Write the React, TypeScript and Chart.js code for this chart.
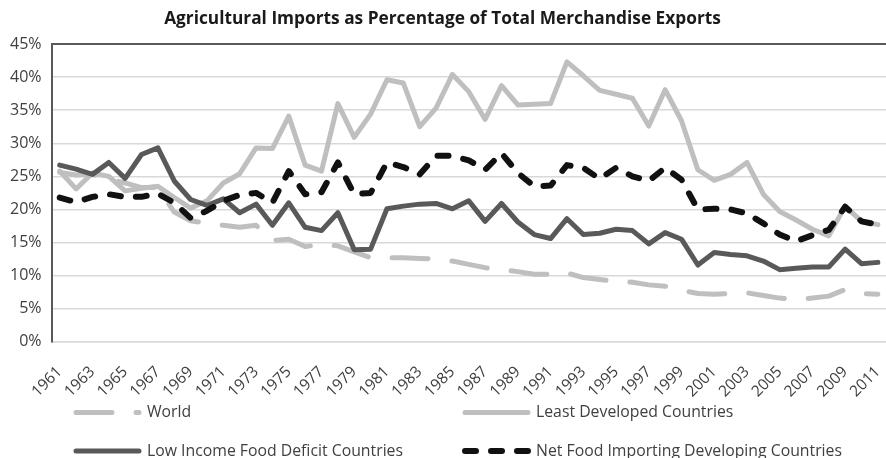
import React, { useEffect, useRef } from "react";
import { Chart, registerables } from "chart.js";

Chart.register(...registerables);

const TITLE = "Agricultural Imports as Percentage of Total Merchandise Exports";

const years = [
  "1961", "1962", "1963", "1964", "1965", "1966", "1967", "1968", "1969", "1970",
  "1971", "1972", "1973", "1974", "1975", "1976", "1977", "1978", "1979", "1980",
  "1981", "1982", "1983", "1984", "1985", "1986", "1987", "1988", "1989", "1990",
  "1991", "1992", "1993", "1994", "1995", "1996", "1997", "1998", "1999", "2000",
  "2001", "2002", "2003", "2004", "2005", "2006", "2007", "2008", "2009", "2010",
  "2011",
];

const world = [
  25.6, 25.2, 25.3, 24.6, 24.0, 23.3, 23.3, 19.6, 18.3, 17.9,
  17.6, 17.3, 17.6, 15.3, 15.5, 14.4, 14.7, 14.5, 13.6, 12.7,
  12.7, 12.7, 12.6, 12.5, 12.2, 11.7, 11.2, 10.9, 10.6, 10.2,
  10.2, 10.4, 9.7, 9.4, 9.1, 9.0, 8.6, 8.4, 7.8, 7.3,
  7.2, 7.3, 7.4, 7.0, 6.6, 6.4, 6.6, 6.9, 7.9, 7.3,
  7.2,
];

const leastDeveloped = [
  25.8, 23.1, 25.5, 25.0, 22.8, 23.2, 23.5, 21.8, 20.2, 21.3,
  24.0, 25.4, 29.3, 29.2, 34.1, 26.7, 25.8, 36.0, 30.9, 34.4,
  39.6, 39.1, 32.5, 35.3, 40.4, 37.8, 33.6, 38.7, 35.8, 35.9,
  36.0, 42.3, 40.2, 38.0, 37.4, 36.8, 32.6, 38.1, 33.4, 26.0,
  24.4, 25.3, 27.1, 22.3, 19.7, 18.4, 17.0, 16.0, 20.5, 18.2,
  17.7,
];

const lowIncomeFoodDeficit = [
  26.7, 26.1, 25.3, 27.1, 24.7, 28.3, 29.3, 24.3, 21.5, 20.6,
  21.6, 19.5, 20.8, 17.6, 21.0, 17.3, 16.8, 19.5, 13.9, 14.0,
  20.1, 20.5, 20.8, 20.9, 20.1, 21.3, 18.2, 20.9, 18.1, 16.2,
  15.6, 18.6, 16.2, 16.4, 17.0, 16.8, 14.8, 16.5, 15.5, 11.6,
  13.5, 13.2, 13.0, 12.2, 10.9, 11.1, 11.3, 11.3, 14.0, 11.8,
  12.0,
];

const netFoodImporting = [
  21.8, 21.1, 21.9, 22.3, 21.9, 21.9, 22.4, 21.0, 18.7, 19.8,
  21.3, 22.2, 22.5, 21.0, 25.8, 22.3, 22.6, 27.1, 22.3, 22.5,
  27.1, 26.4, 25.3, 28.1, 28.1, 27.4, 26.0, 28.5, 25.5, 23.5,
  23.6, 26.7, 26.3, 24.6, 26.3, 25.0, 24.3, 26.3, 24.5, 20.0,
  20.1, 20.0, 19.4, 17.9, 16.2, 15.2, 16.1, 16.9, 20.4, 18.2,
  17.7,
];

const seriesNames = [
  "World",
  "Least Developed Countries",
  "Low Income Food Deficit Countries",
  "Net Food Importing Developing Countries",
];

const FONT = "'Open Sans', sans-serif";
const TEXT = "#404040";

type Sty = { color: string; width: number; dash: number[] };
const styles: Sty[] = [
  { color: "#bfbfbf", width: 5, dash: [36, 24] },
  { color: "#bfbfbf", width: 5, dash: [] },
  { color: "#595959", width: 5, dash: [] },
  { color: "#111111", width: 6, dash: [11, 15] },
];

const titleLegendPlugin = {
  id: "titleAndGridLegend",
  afterDraw(chart: any) {
    const ctx = chart.ctx as CanvasRenderingContext2D;
    ctx.save();
    // title
    ctx.fillStyle = "#1a1a1a";
    ctx.font = `bold 17.3px ${FONT}`;
    ctx.textAlign = "center";
    ctx.textBaseline = "middle";
    ctx.fillText(TITLE, 442.5, 19);
    // legend (two columns)
    const cols = [73, 462];
    const rows = [412.5, 451];
    seriesNames.forEach((name, i) => {
      const s = styles[i];
      const x0 = cols[i % 2];
      const y = rows[Math.floor(i / 2)];
      ctx.beginPath();
      ctx.strokeStyle = s.color;
      ctx.lineWidth = s.width;
      ctx.lineCap = "round";
      ctx.setLineDash(s.dash);
      ctx.moveTo(x0 + 3, y);
      ctx.lineTo(x0 + 66, y);
      ctx.stroke();
      ctx.setLineDash([]);
      ctx.fillStyle = TEXT;
      ctx.font = `15.8px ${FONT}`;
      ctx.textBaseline = "middle";
      ctx.textAlign = "left";
      ctx.fillText(name, x0 + 74, y);
    });
    ctx.restore();
  },
};

export default function App() {
  const ref = useRef<HTMLCanvasElement>(null);
  useEffect(() => {
    document.body.style.margin = "0";
    const datas = [world, leastDeveloped, lowIncomeFoodDeficit, netFoodImporting];
    const chart = new Chart(ref.current as HTMLCanvasElement, {
      type: "line",
      data: {
        labels: years,
        datasets: datas.map((d, i) => ({
          label: seriesNames[i],
          data: d,
          borderColor: styles[i].color,
          backgroundColor: styles[i].color,
          borderWidth: styles[i].width,
          borderDash: styles[i].dash,
          borderCapStyle: "round" as const,
          borderJoinStyle: "round" as const,
          pointRadius: 0,
          pointHoverRadius: 0,
          tension: 0,
          fill: false,
          order: 4 - i,
        })),
      },
      options: {
        responsive: false,
        animation: false,
        devicePixelRatio: 1,
        layout: { padding: { left: 0, right: 0, top: 44, bottom: 44 } },
        plugins: {
          legend: { display: false },
          tooltip: { enabled: false },
          title: { display: false },
        },
        scales: {
          x: {
            type: "category",
            offset: true,
            grid: { display: false },
            border: { display: true, color: "#d9d9d9", width: 1.5 },
            ticks: {
              autoSkip: false,
              minRotation: 45,
              maxRotation: 45,
              padding: 13,
              color: TEXT,
              font: { family: FONT, size: 15.5 },
              callback: (_v: any, idx: number) => (idx % 2 === 0 ? years[idx] : ""),
            },
          },
          y: {
            min: 0,
            max: 45,
            grid: {
              color: (c: any) => (c.tick && c.tick.value === 45 ? "#595959" : "#d9d9d9"),
              lineWidth: (c: any) => (c.tick && c.tick.value === 45 ? 2 : 1.5),
              drawTicks: false,
            },
            border: { display: true, color: "#595959", width: 2 },
            ticks: {
              stepSize: 5,
              padding: 10,
              color: TEXT,
              font: { family: FONT, size: 16 },
              callback: (v: any) => `${v}%`,
            },
          },
        },
      },
      plugins: [titleLegendPlugin],
    });
    return () => chart.destroy();
  }, []);
  return (
    <div style={{ width: 886, height: 458, overflow: "hidden" }}>
      <canvas ref={ref} width={904} height={458} style={{ display: "block", width: 904, height: 458 }} />
    </div>
  );
}
